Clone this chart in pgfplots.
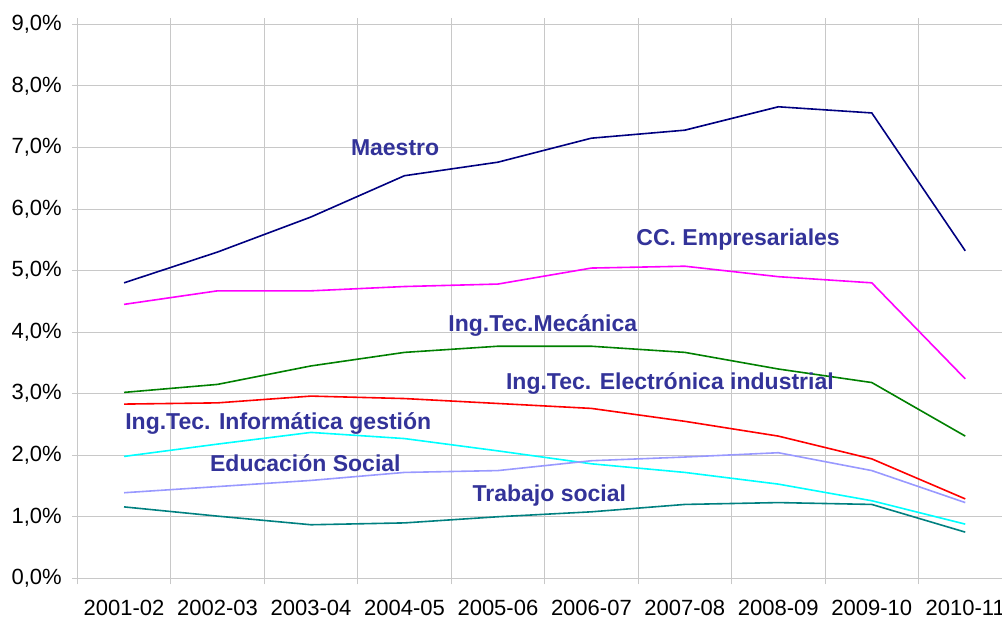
\documentclass[border=0pt]{standalone}
\usepackage{fontspec}
\setmainfont{Liberation Sans}
\usepackage{pgfplots}
\pgfplotsset{compat=1.18}
\definecolor{lbl}{RGB}{51,51,153}
\definecolor{gridgray}{RGB}{200,200,200}
\definecolor{cnavy}{RGB}{0,0,128}
\definecolor{cmag}{RGB}{255,0,255}
\definecolor{cgreen}{RGB}{0,128,0}
\definecolor{cred}{RGB}{255,0,0}
\definecolor{ccyan}{RGB}{0,255,255}
\definecolor{clav}{RGB}{153,153,255}
\definecolor{cteal}{RGB}{0,128,128}
\begin{document}
\begin{tikzpicture}
\begin{axis}[
  scale only axis, width=934.7pt, height=554pt,
  xmin=-0.5, xmax=9.5, ymin=0, ymax=9,
  axis line style={gridgray, line width=0.8pt},
  xtick={0,...,9},
  xticklabels={2001-02,2002-03,2003-04,2004-05,2005-06,2006-07,2007-08,2008-09,2009-10,2010-11},
  major x tick style={draw=none},
  minor xtick={-0.5,0.5,...,9.5},
  xminorgrids,
  ytick={0,...,9},
  yticklabels={{0,0\%},{1,0\%},{2,0\%},{3,0\%},{4,0\%},{5,0\%},{6,0\%},{7,0\%},{8,0\%},{9,0\%}},
  ymajorgrids,
  tick align=outside,
  major tick length=5pt, minor tick length=6pt,
  tick style={gridgray, line width=0.8pt},
  grid style={gridgray, line width=0.8pt},
  minor grid style={gridgray, line width=0.8pt},
  ticklabel style={font=\fontsize{22}{26}\selectfont, black},
  xticklabel style={yshift=-13pt},
  yticklabel style={xshift=-7pt},
  every axis plot/.append style={line width=1.6pt, mark=none},
]
\addplot[cnavy] coordinates {(0,4.80) (1,5.30) (2,5.87) (3,6.54) (4,6.76) (5,7.15) (6,7.28) (7,7.66) (8,7.56) (9,5.32)};
\addplot[cmag] coordinates {(0,4.45) (1,4.67) (2,4.67) (3,4.74) (4,4.78) (5,5.04) (6,5.07) (7,4.90) (8,4.80) (9,3.24)};
\addplot[cgreen] coordinates {(0,3.02) (1,3.15) (2,3.45) (3,3.67) (4,3.77) (5,3.77) (6,3.67) (7,3.40) (8,3.18) (9,2.31)};
\addplot[cred] coordinates {(0,2.83) (1,2.85) (2,2.96) (3,2.92) (4,2.84) (5,2.76) (6,2.55) (7,2.31) (8,1.94) (9,1.29)};
\addplot[ccyan] coordinates {(0,1.98) (1,2.18) (2,2.37) (3,2.27) (4,2.07) (5,1.86) (6,1.72) (7,1.53) (8,1.26) (9,0.88)};
\addplot[clav] coordinates {(0,1.39) (1,1.49) (2,1.59) (3,1.72) (4,1.75) (5,1.91) (6,1.97) (7,2.04) (8,1.75) (9,1.23)};
\addplot[cteal] coordinates {(0,1.16) (1,1.01) (2,0.87) (3,0.90) (4,1.00) (5,1.08) (6,1.20) (7,1.23) (8,1.20) (9,0.75)};
\begin{scope}[every node/.style={lbl, font=\bfseries\fontsize{23}{26}\selectfont}]
\node at (axis cs:2.90,7.00) {Maestro};
\node at (axis cs:6.57,5.50) {CC. Empresariales};
\node at (axis cs:4.48,4.10) {Ing.Tec.Mecánica};
\node at (axis cs:5.84,3.17) {Ing.Tec. Electrónica industrial};
\node at (axis cs:1.65,2.52) {Ing.Tec. Informática gestión};
\node at (axis cs:1.94,1.87) {Educación Social};
\node at (axis cs:4.55,1.35) {Trabajo social};
\end{scope}
\end{axis}
\pgfresetboundingbox
\path[use as bounding box] (-77.3pt,-40.7pt) rectangle (924.7pt,578.3pt);
\end{tikzpicture}
\end{document}
